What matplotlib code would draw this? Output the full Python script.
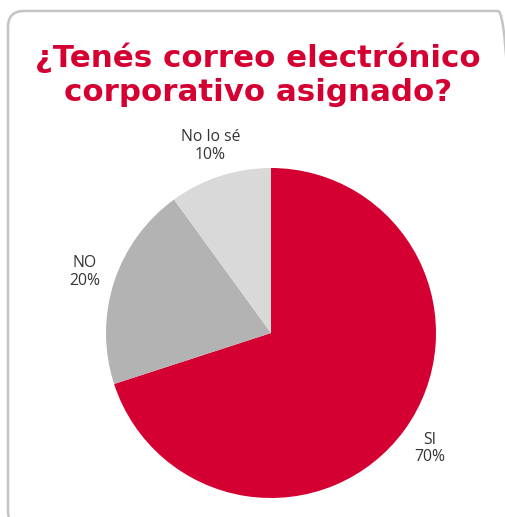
import matplotlib
matplotlib.use("Agg")
import matplotlib.pyplot as plt
from matplotlib.patches import FancyBboxPatch
from matplotlib.transforms import IdentityTransform
import numpy as np

title = "¿Tenés correo electrónico\ncorporativo asignado?"
categories = ["SI", "NO", "No lo sé"]
values = [70, 20, 10]
colors = ["#D50032", "#B3B3B3", "#D9D9D9"]

W, H, DPI = 506, 517, 100
fig = plt.figure(figsize=(W / DPI, H / DPI), dpi=DPI)
fig.patch.set_facecolor("white")

# rounded card frame (pixel coordinates)
card = FancyBboxPatch((8, -10), 506, 517 - 11 + 10,
                      boxstyle="round,pad=0,rounding_size=16",
                      transform=IdentityTransform(), facecolor="none",
                      edgecolor="#C4C4C4", linewidth=1.8, zorder=5)
fig.patches.append(card)

fig.text(258 / W, 1 - 75 / H, title, ha="center", va="center",
         fontsize=22.2, fontweight="bold", family="DejaVu Sans",
         color="#D50032", linespacing=1.22)

cx, cy, r = 271, 333, 165
ax = fig.add_axes([(cx - r) / W, (H - cy - r) / H, 2 * r / W, 2 * r / H])
labels = [f"{c}\n{v}%" for c, v in zip(categories, values)]
wedges, texts = ax.pie(values, colors=colors, startangle=90, counterclock=False,
                       labels=labels, labeldistance=1.19,
                       wedgeprops=dict(linewidth=0),
                       textprops=dict(fontsize=11.3, color="#333333",
                                      family="Open Sans", linespacing=1.15))
for t in texts:
    t.set_ha("center")
    t.set_va("center")
ax.set_xlim(-1, 1)
ax.set_ylim(-1, 1)
ax.set_aspect("equal")
ax.axis("off")

fig.savefig("out.png", dpi=DPI)
